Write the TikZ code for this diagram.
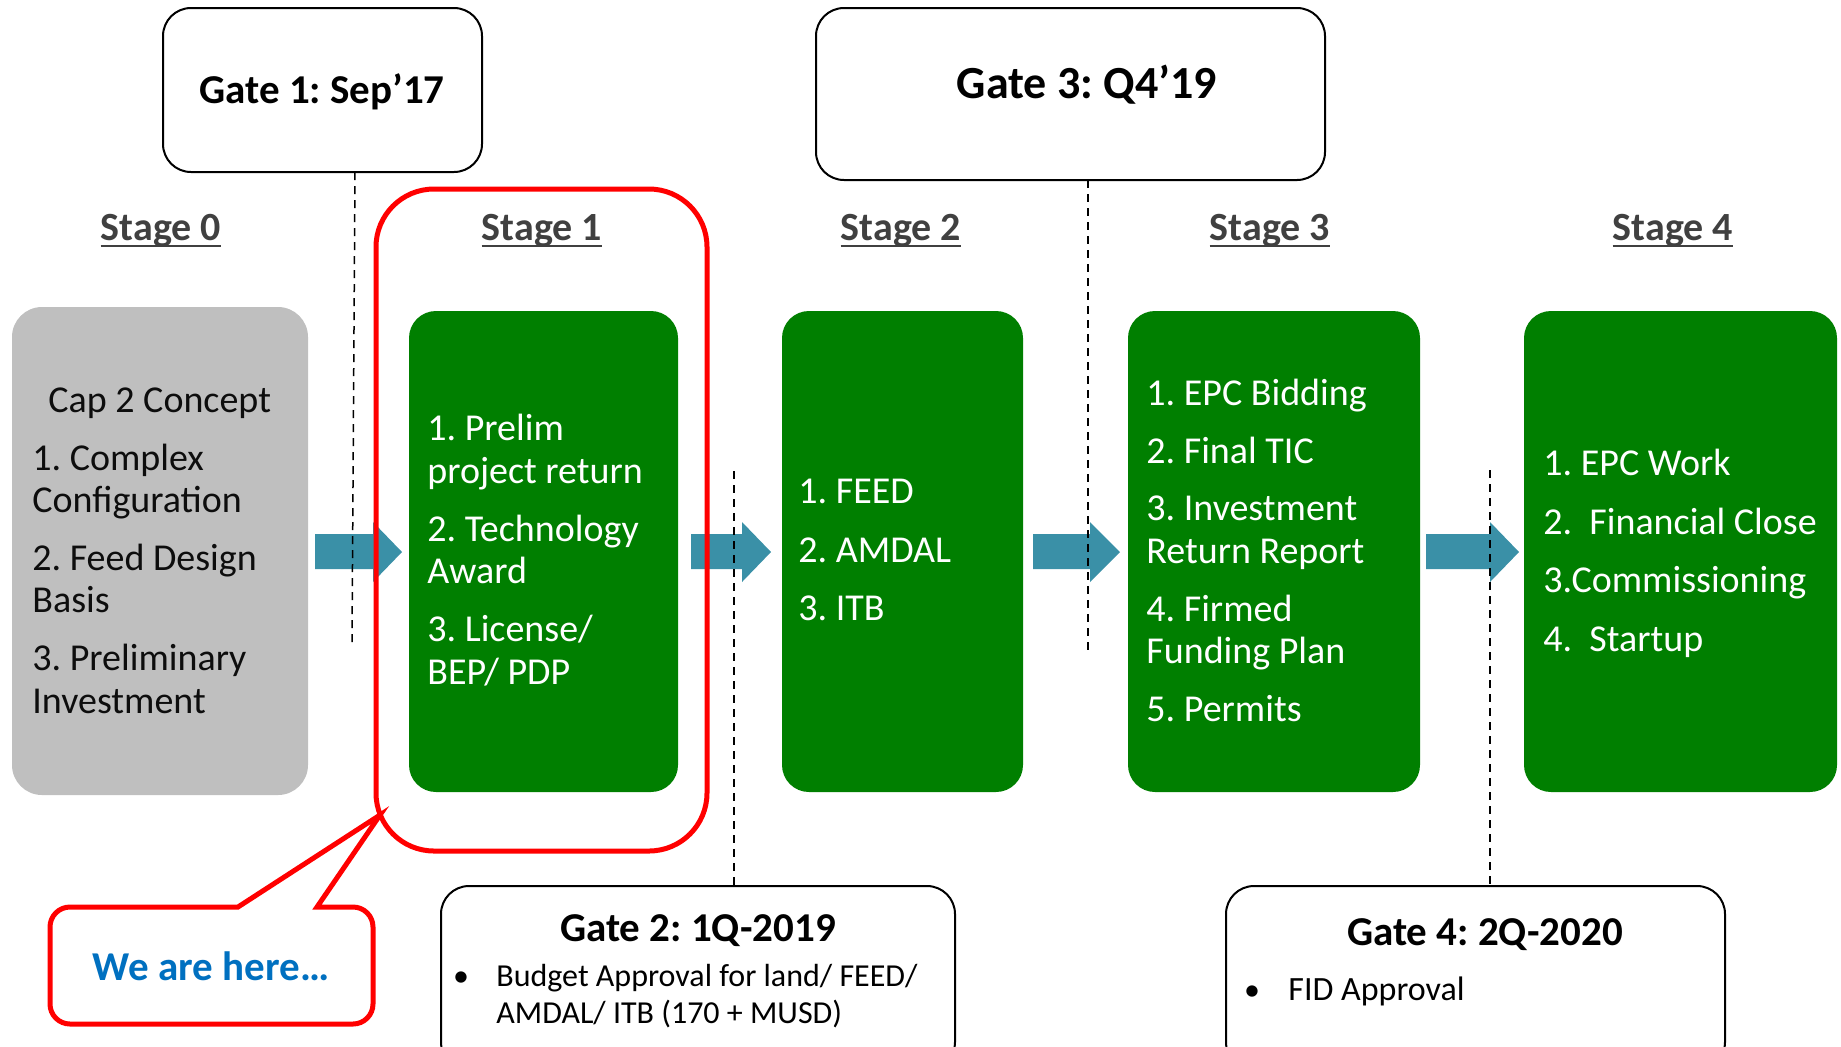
\documentclass[tikz,border=0pt]{standalone}
\usepackage{fontspec}
\setmainfont{Carlito}
\definecolor{grn}{RGB}{0,127,0}
\definecolor{gry}{RGB}{191,191,191}
\definecolor{arr}{RGB}{58,144,167}
\definecolor{stg}{RGB}{64,64,64}
\definecolor{blu}{RGB}{0,112,192}
\definecolor{txk}{RGB}{13,13,13}
\newcommand\blockarrow[3]{\fill[arr] (#1,534) -- (#2,534) -- (#2,522) -- (#3,552) -- (#2,582) -- (#2,569) -- (#1,569) -- cycle;}
\tikzset{
  greenbox/.style={fill=grn, rounded corners=13.5pt, inner sep=0pt, minimum height=240.5pt},
  graybox/.style={fill=gry, rounded corners=15pt, inner sep=0pt},
  gatebox/.style={draw=black, line width=1pt, fill=white, rounded corners=14pt, inner sep=0pt},
  body/.style={font=\fontsize{19}{22}\selectfont, text=white, anchor=base west, inner sep=0pt},
  graytext/.style={body, text=txk},
  stagelbl/.style={font=\fontsize{20}{24}\selectfont\bfseries, text=stg, anchor=base, inner sep=0pt},
  gatetitle/.style={font=\fontsize{20.5}{24}\selectfont\bfseries, text=black, anchor=base, inner sep=0pt},
  gatebody/.style={font=\fontsize{16}{19}\selectfont, text=black, anchor=base west, inner sep=0pt},
  gateline/.style={draw=black, line width=0.75pt, dash pattern=on 4pt off 3pt},
  redline/.style={draw=red, line width=2.5pt},
}
\begin{document}
\frenchspacing
\begin{tikzpicture}[x=0.5pt,y=-0.5pt]
\useasboundingbox (0,0) rectangle (1841,1046);
\begin{scope}
\clip (0,0) rectangle (1841,1046);
% stage boxes
\node[graybox, minimum width=148pt, minimum height=244pt] (s0) at (160,551) {};
\node[greenbox, minimum width=134.5pt] (s1) at (543.5,551.5) {};
\node[greenbox, minimum width=120.5pt] (s2) at (902.5,551.5) {};
\node[greenbox, minimum width=146pt] (s3) at (1274,551.5) {};
\node[greenbox, minimum width=156.5pt] (s4) at (1680.5,551.5) {};
% arrows
\blockarrow{315}{373}{402}
\blockarrow{691}{742}{771}
\blockarrow{1033}{1090}{1120}
\blockarrow{1426}{1490}{1519}
% gate boxes
\node[gatebox, minimum width=159.5pt, minimum height=82pt] (g1) at (322.5,90) {};
\node[gatebox, minimum width=254.5pt, minimum height=86pt] (g3) at (1070.5,94) {};
\node[gatebox, minimum width=257pt, minimum height=92pt] (g2) at (698,978) {};
\node[gatebox, minimum width=249.5pt, minimum height=92pt] (g4) at (1475.5,978) {};
% dashed gate lines
\coordinate (d1a) at (355,172); \coordinate (d1b) at (352,643);
\coordinate (d2a) at (734,471); \coordinate (d2b) at (734,886);
\coordinate (d3a) at (1088,180); \coordinate (d3b) at (1088,653);
\coordinate (d4a) at (1490,470); \coordinate (d4b) at (1490,886);
\draw[gateline] (d1a) -- (d1b);
\draw[gateline] (d2a) -- (d2b);
\draw[gateline] (d3a) -- (d3b);
\draw[gateline] (d4a) -- (d4b);
% red highlight
\node[redline, rounded corners=29pt, inner sep=0pt, minimum width=165.5pt, minimum height=331pt] (hl) at (541.5,520) {};
% callout
\coordinate (tip) at (380,815);
\draw[redline, fill=white, line join=miter] (238,907) [rounded corners=10pt] -- (50,907) -- (50,1024) -- (373,1024) -- (373,907) [sharp corners] -- (317,907) -- (tip) -- cycle;
\node[font=\fontsize{20.5}{24}\selectfont\bfseries, text=blu, anchor=base, inner sep=0pt] (here) at (211,980) {We are here…};
% stage labels
\foreach \n/\x/\t in {st0/161/Stage 0, st1/542/Stage 1, st2/901/Stage 2, st3/1270/Stage 3, st4/1673/Stage 4}{
  \node[stagelbl] (\n) at (\x,240) {\t};
  \draw[stg, line width=1pt] ([yshift=-3pt]\n.base west) -- ([yshift=-3pt]\n.base east);
}
% gate titles
\node[gatetitle] (g1t) at (322,103) {Gate 1: Sep’17};
\node[gatetitle, font=\fontsize{23}{27}\selectfont\bfseries] (g3t) at (1087,98) {Gate 3: Q4’19};
\node[gatetitle] (g2t) at (698,941) {Gate 2: 1Q-2019};
\node[gatetitle] (g4t) at (1485,945) {Gate 4: 2Q-2020};
\node[gatebody, anchor=base] (g2b) at (461,986) {•};
\node[gatebody] (g2l1) at (496,986) {Budget Approval for land/ FEED/};
\node[gatebody] (g2l2) at (496,1023) {AMDAL/ ITB (170 + MUSD)};
\node[gatebody, anchor=base] (g4b) at (1252,1000) {•};
\node[gatebody, font=\fontsize{17}{20}\selectfont] (g4l1) at (1288,1000) {FID Approval};
% stage 0 text
\node[graytext] (a0) at (48,412) {Cap 2 Concept};
\node[graytext] (a1) at (32,470) {1. Complex};
\node[graytext] (a2) at (32,512) {Configuration};
\node[graytext] (a3) at (32,570) {2. Feed Design};
\node[graytext] (a4) at (32,612) {Basis};
\node[graytext] (a5) at (32,670) {3. Preliminary};
\node[graytext] (a6) at (32,713) {Investment};
% stage 1 text
\node[body] (b1) at (427,440) {1. Prelim};
\node[body] (b2) at (427,483) {project return};
\node[body] (b3) at (427,541) {2. Technology};
\node[body] (b4) at (427,583) {Award};
\node[body] (b5) at (427,641) {3. License/};
\node[body] (b6) at (427,684) {BEP/ PDP};
% stage 2 text
\node[body] (c1) at (798,503) {1. FEED};
\node[body] (c2) at (798,562) {2. AMDAL};
\node[body] (c3) at (798,620) {3. ITB};
% stage 3 text
\node[body] (e1) at (1146,405) {1. EPC Bidding};
\node[body] (e2) at (1146,463) {2. Final TIC};
\node[body] (e3) at (1146,520) {3. Investment};
\node[body] (e4) at (1146,563) {Return Report};
\node[body] (e5) at (1146,621) {4. Firmed};
\node[body] (e6) at (1146,663) {Funding Plan};
\node[body] (e7) at (1146,721) {5. Permits};
% stage 4 text
\node[body] (f1) at (1543,475) {1. EPC Work};
\node[body] (f2) at (1543,534) {2.\ \ Financial Close};
\node[body] (f3) at (1543,592) {3.Commissioning};
\node[body] (f4) at (1543,651) {4.\ \ Startup};
\end{scope}
\end{tikzpicture}
\end{document}
